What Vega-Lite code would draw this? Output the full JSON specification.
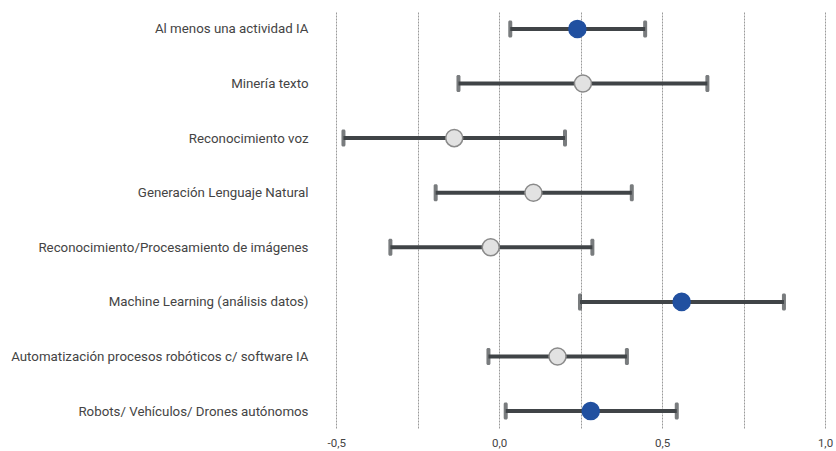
{
  "$schema": "https://vega.github.io/schema/vega-lite/v6.json",
  "autosize": "none",
  "padding": {"left": 320, "top": 12, "right": 11, "bottom": 23},
  "width": 505,
  "height": 416,
  "background": "white",
  "config": {"view": {"stroke": null}, "font": "Roboto"},
  "data": {"values": [
    {"cat": "Al menos una actividad IA", "est": 0.240, "lo": 0.034, "hi": 0.448, "sig": "yes"},
    {"cat": "Minería texto", "est": 0.257, "lo": -0.125, "hi": 0.639, "sig": "no"},
    {"cat": "Reconocimiento voz", "est": -0.138, "lo": -0.478, "hi": 0.202, "sig": "no"},
    {"cat": "Generación Lenguaje Natural", "est": 0.105, "lo": -0.195, "hi": 0.407, "sig": "no"},
    {"cat": "Reconocimiento/Procesamiento de imágenes", "est": -0.026, "lo": -0.334, "hi": 0.286, "sig": "no"},
    {"cat": "Machine Learning (análisis datos)", "est": 0.560, "lo": 0.248, "hi": 0.874, "sig": "yes"},
    {"cat": "Automatización procesos robóticos c/ software IA", "est": 0.179, "lo": -0.033, "hi": 0.392, "sig": "no"},
    {"cat": "Robots/ Vehículos/ Drones autónomos", "est": 0.281, "lo": 0.020, "hi": 0.545, "sig": "yes"}
  ]},
  "encoding": {
    "y": {"field": "cat", "type": "nominal", "sort": null, "title": null,
      "scale": {"type": "point", "padding": 0.31},
      "axis": {"domain": false, "ticks": false, "labelPadding": 12, "labelFontSize": 13.3, "labelColor": "#444444", "labelLimit": 400, "grid": false}}
  },
  "layer": [
    {
      "mark": {"type": "rule", "color": "#404447", "strokeWidth": 4},
      "encoding": {
        "x": {"field": "lo", "type": "quantitative", "title": null,
          "scale": {"domain": [-0.55, 1.0], "nice": false, "zero": false},
          "axis": {"values": [-0.5, -0.25, 0, 0.25, 0.5, 0.75, 1.0], "domain": false, "ticks": false,
            "labelExpr": "abs(datum.value*2 - round(datum.value*2)) > 0.01 ? '' : replace(replace(format(datum.value, '.1f'), '.', ','), '\u2212', '-')",
            "labelFlush": false,
            "labelFontSize": 11.5, "labelColor": "#444444", "labelPadding": 9,
            "grid": true, "gridColor": "#9a9a9a", "gridDash": [2, 1], "gridWidth": 1}},
        "x2": {"field": "hi"}
      }
    },
    {
      "mark": {"type": "tick", "color": "#404447", "thickness": 4, "size": 17, "orient": "vertical", "cornerRadius": 1.5},
      "encoding": {"x": {"field": "lo", "type": "quantitative"}}
    },
    {
      "mark": {"type": "tick", "color": "#404447", "thickness": 4, "size": 17, "orient": "vertical", "cornerRadius": 1.5},
      "encoding": {"x": {"field": "hi", "type": "quantitative"}}
    },
    {
      "mark": {"type": "point", "filled": true, "opacity": 1, "size": 290, "strokeWidth": 1.5},
      "encoding": {
        "x": {"field": "est", "type": "quantitative"},
        "fill": {"field": "sig", "type": "nominal", "legend": null,
          "scale": {"domain": ["yes", "no"], "range": ["#2150a0", "#e2e2e2"]}},
        "stroke": {"field": "sig", "type": "nominal", "legend": null,
          "scale": {"domain": ["yes", "no"], "range": ["#2150a0", "#8a8a8a"]}}
      }
    }
  ]
}
